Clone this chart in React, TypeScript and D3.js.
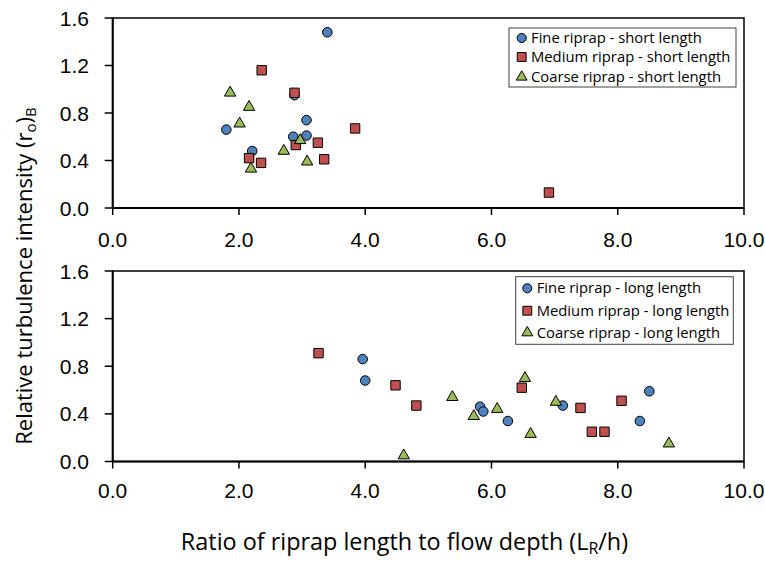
import React, { useEffect, useRef } from "react";
import * as d3 from "d3";

// short length runs (top panel), [L_R/h, (r_o)_B]
const shortFine = [
  [1.8, 0.66], [2.21, 0.48], [2.88, 0.95], [3.07, 0.74], [2.86, 0.6], [3.07, 0.61], [3.4, 1.48],
];
const shortMedium = [
  [2.36, 1.16], [2.88, 0.97], [2.16, 0.42], [2.35, 0.38], [2.9, 0.53], [3.25, 0.55], [3.35, 0.41],
  [3.84, 0.67], [6.91, 0.13],
];
const shortCoarse = [
  [1.86, 0.97], [2.16, 0.85], [2.01, 0.71], [2.71, 0.48], [2.97, 0.57], [3.08, 0.39], [2.19, 0.33],
];

// long length runs (bottom panel)
const longFine = [
  [3.96, 0.86], [4.0, 0.68], [5.82, 0.46], [5.87, 0.42], [6.26, 0.34], [7.13, 0.47], [8.35, 0.34],
  [8.5, 0.59],
];
const longMedium = [
  [3.26, 0.91], [4.48, 0.64], [4.81, 0.47], [6.48, 0.62], [7.41, 0.45], [7.59, 0.25], [7.79, 0.25],
  [8.06, 0.51],
];
const longCoarse = [
  [4.61, 0.05], [5.38, 0.54], [5.72, 0.38], [6.09, 0.44], [6.53, 0.7], [6.62, 0.23], [7.02, 0.5],
  [8.81, 0.15],
];

const xTicks = [0, 2, 4, 6, 8, 10];
const yTicks = [0, 0.4, 0.8, 1.2, 1.6];
const seriesNames = ["Fine riprap", "Medium riprap", "Coarse riprap"];
const seriesColors = ["#4F81BD", "#C0504D", "#9BBB59"];
const seriesShapes = [d3.symbolCircle, d3.symbolSquare, d3.symbolTriangle];
const seriesSizes = [72, 88, 56];

const panels = [
  { suffix: "short length", series: [shortFine, shortMedium, shortCoarse], top: 18, bottom: 208, labelDy: 39,
    legend: { x: 509, y: 28, w: 227, h: 59, rowY: [38, 57, 77], mx: 521.7, tx: 531 } },
  { suffix: "long length", series: [longFine, longMedium, longCoarse], top: 271, bottom: 461.5, labelDy: 36.5,
    legend: { x: 515.7, y: 276.7, w: 217.6, h: 67.6, rowY: [288.3, 310.7, 332.7], mx: 527.3, tx: 536.7 } },
];

const sans = "'Open Sans', Lato, sans-serif";
const tickFont = "'Liberation Sans', Arial, sans-serif";

export default function App() {
  const svgRef = useRef<SVGSVGElement>(null);

  useEffect(() => {
    const svg = d3.select(svgRef.current);
    svg.selectAll("*").remove();

    const x = d3.scaleLinear().domain([0, 10]).range([112.7, 744]);

    panels.forEach((p) => {
      const y = d3.scaleLinear().domain([0, 1.6]).range([p.bottom, p.top]);
      const g = svg.append("g");

      // plot frame
      g.append("rect")
        .attr("x", x(0)).attr("y", y(1.6))
        .attr("width", x(10) - x(0)).attr("height", y(0) - y(1.6))
        .attr("fill", "none").attr("stroke", "#000").attr("stroke-width", 1.5);

      // axes lines
      g.append("line").attr("x1", x(0)).attr("x2", x(0)).attr("y1", y(1.6)).attr("y2", y(0))
        .attr("stroke", "#000").attr("stroke-width", 2);
      g.append("line").attr("x1", x(0)).attr("x2", x(10)).attr("y1", y(0)).attr("y2", y(0))
        .attr("stroke", "#000").attr("stroke-width", 2);

      const tickText = g.append("g").attr("font-family", tickFont).attr("font-size", 21);

      yTicks.forEach((t) => {
        g.append("line").attr("x1", x(0) - 8).attr("x2", x(0)).attr("y1", y(t)).attr("y2", y(t))
          .attr("stroke", "#000").attr("stroke-width", 1.5);
        tickText.append("text").attr("x", 89).attr("y", y(t) + 7.5)
          .attr("text-anchor", "end")
          .text(t.toFixed(1));
      });

      xTicks.forEach((t) => {
        g.append("line").attr("x1", x(t)).attr("x2", x(t)).attr("y1", y(0)).attr("y2", y(0) + 7)
          .attr("stroke", "#000").attr("stroke-width", 1.5);
        tickText.append("text").attr("x", x(t)).attr("y", y(0) + p.labelDy)
          .attr("text-anchor", "middle")
          .text(t.toFixed(1));
      });

      // markers
      p.series.forEach((data, i) => {
        const sym = d3.symbol().type(seriesShapes[i]).size(seriesSizes[i]);
        g.append("g").selectAll("path").data(data).enter().append("path")
          .attr("d", sym)
          .attr("transform", (d) => `translate(${x(d[0])},${y(d[1])})`)
          .attr("fill", seriesColors[i]).attr("stroke", "#000").attr("stroke-width", 1);
      });

      // legend
      const L = p.legend;
      const lg = g.append("g");
      lg.append("rect").attr("x", L.x).attr("y", L.y).attr("width", L.w).attr("height", L.h)
        .attr("fill", "#fff").attr("stroke", "#404040").attr("stroke-width", 1);
      seriesNames.forEach((name, i) => {
        const sym = d3.symbol().type(seriesShapes[i]).size(seriesSizes[i] * 0.9);
        lg.append("path").attr("d", sym)
          .attr("transform", `translate(${L.mx},${L.rowY[i]})`)
          .attr("fill", seriesColors[i]).attr("stroke", "#000").attr("stroke-width", 1);
        lg.append("text").attr("x", L.tx).attr("y", L.rowY[i] + 5)
          .attr("font-family", sans).attr("font-size", 14.8)
          .text(`${name} - ${p.suffix}`);
      });
    });

    // y title
    const yt = svg.append("text")
      .attr("transform", "translate(32,276) rotate(-90)")
      .attr("text-anchor", "middle").attr("font-family", sans).attr("font-size", 22);
    yt.append("tspan").text("Relative turbulence intensity (r");
    yt.append("tspan").attr("font-size", 15).attr("dy", 4).text("o");
    yt.append("tspan").attr("dy", -4).text(")");
    yt.append("tspan").attr("font-size", 15).attr("dy", 4).text("B");

    // x title
    const xt = svg.append("text")
      .attr("x", 404.5).attr("y", 550)
      .attr("text-anchor", "middle").attr("font-family", sans).attr("font-size", 23.4);
    xt.append("tspan").text("Ratio of riprap length to flow depth (L");
    xt.append("tspan").attr("font-size", 16).attr("dy", 4).text("R");
    xt.append("tspan").attr("dy", -4).text("/h)");
  }, []);

  return (
    <svg
      ref={svgRef}
      width={765}
      height={561}
      style={{ position: "absolute", left: 0, top: 0, background: "#fff" }}
    />
  );
}
